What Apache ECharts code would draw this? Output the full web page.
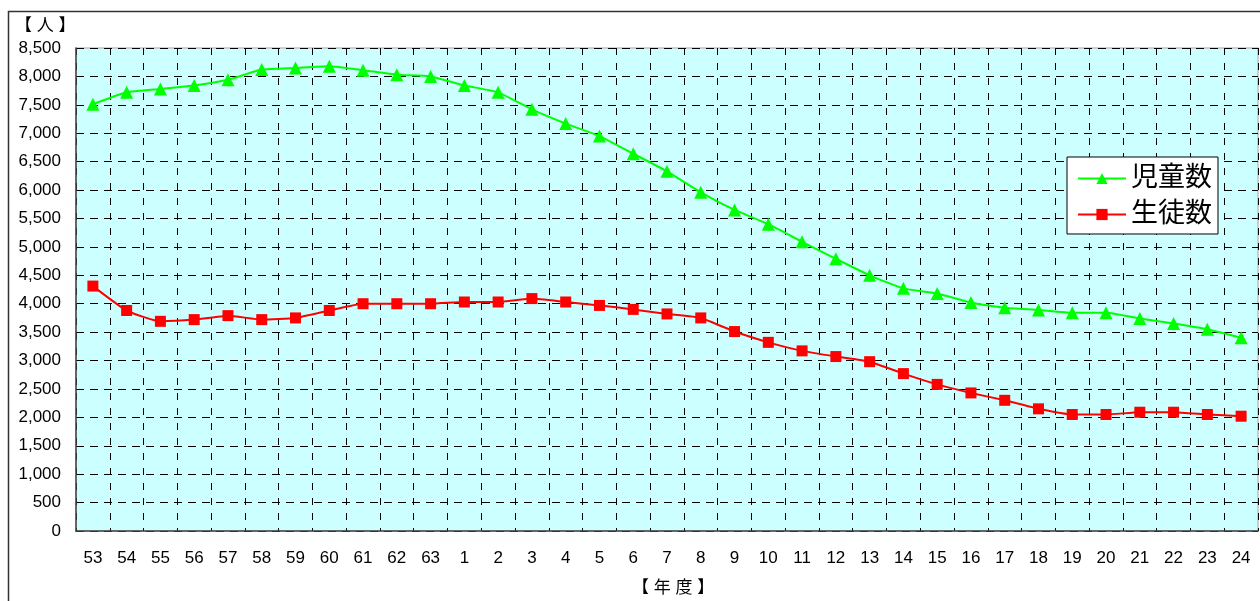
<!DOCTYPE html>
<html><head><meta charset="utf-8">
<script src="https://cdn.jsdelivr.net/npm/echarts@6/dist/echarts.min.js"></script>
<style>html,body{margin:0;padding:0;background:#fff}#c{width:1260px;height:601px}</style>
</head><body><div id="c"></div>
<script>
const categories = ['53','54','55','56','57','58','59','60','61','62','63','1','2','3','4','5','6','7','8','9','10','11','12','13','14','15','16','17','18','19','20','21','22','23','24'];
const childCount = [7510,7720,7780,7840,7940,8120,8150,8180,8110,8030,8000,7840,7720,7420,7170,6950,6640,6330,5960,5650,5400,5090,4790,4500,4270,4180,4020,3930,3890,3840,3840,3740,3650,3550,3400];
const studentCount = [4310,3880,3690,3720,3790,3720,3750,3880,4000,4000,4000,4030,4030,4090,4030,3970,3900,3820,3750,3510,3320,3170,3070,2980,2770,2580,2430,2300,2150,2050,2050,2090,2090,2050,2020];
const seriesNames = ['児童数','生徒数'];
const yUnit = '【 人 】';
const xName = '【 年 度 】';

const font = 'Arial, "Liberation Sans", "Noto Sans CJK JP", sans-serif';
const chart = echarts.init(document.getElementById('c'));
chart.setOption({
  animation: false,
  backgroundColor: '#fff',
  graphic: [
    {type:'rect', shape:{x:8.5,y:11.5,width:1300,height:700}, style:{fill:'none',stroke:'#333',lineWidth:1.5}, z:100},
    {type:'text', left:15, top:18, style:{text:yUnit, font:'17px '+font, fill:'#000'}},
    {type:'text', left:632, top:580, style:{text:xName, font:'17px '+font, fill:'#000'}}
  ],
  grid: {left:76, top:48, right:2, bottom:70, show:true, backgroundColor:'#CCFFFF', borderColor:'#c0c0c0', borderWidth:1.5},
  xAxis: {
    type:'category', data:categories, boundaryGap:true,
    axisLine:{show:true, lineStyle:{color:'#444', width:1.5}},
    axisTick:{show:false},
    axisLabel:{color:'#000', fontSize:17, fontFamily:font, margin:19, interval:0},
    splitLine:{show:true, interval:0, lineStyle:{color:'#000', type:[7,8], width:1}}
  },
  yAxis: {
    type:'value', min:0, max:8500, interval:500,
    axisLine:{show:true, lineStyle:{color:'#444', width:1.5}},
    axisTick:{show:false},
    axisLabel:{color:'#000', fontSize:17, fontFamily:font, margin:15, formatter:v=>v.toLocaleString('en-US')},
    splitLine:{show:true, lineStyle:{color:'#000', type:[8,6], width:1}}
  },
  legend: {
    orient:'vertical', left:1067, top:157, width:155,
    backgroundColor:'#fff', borderColor:'#000', borderWidth:1,
    padding:[8,6,6,10], itemGap:9, itemWidth:48, itemHeight:14,
    textStyle:{fontSize:27, color:'#000', fontFamily:font},
    data: seriesNames
  },
  series: [
    {name:seriesNames[0], type:'line', data:childCount, symbol:'triangle', symbolSize:13,
     smooth:0.15, lineStyle:{color:'#00FF00', width:2}, itemStyle:{color:'#00FF00'}},
    {name:seriesNames[1], type:'line', data:studentCount, symbol:'rect', symbolSize:11,
     smooth:0.15, lineStyle:{color:'#FF0000', width:2}, itemStyle:{color:'#FF0000'}}
  ]
});
</script></body></html>
